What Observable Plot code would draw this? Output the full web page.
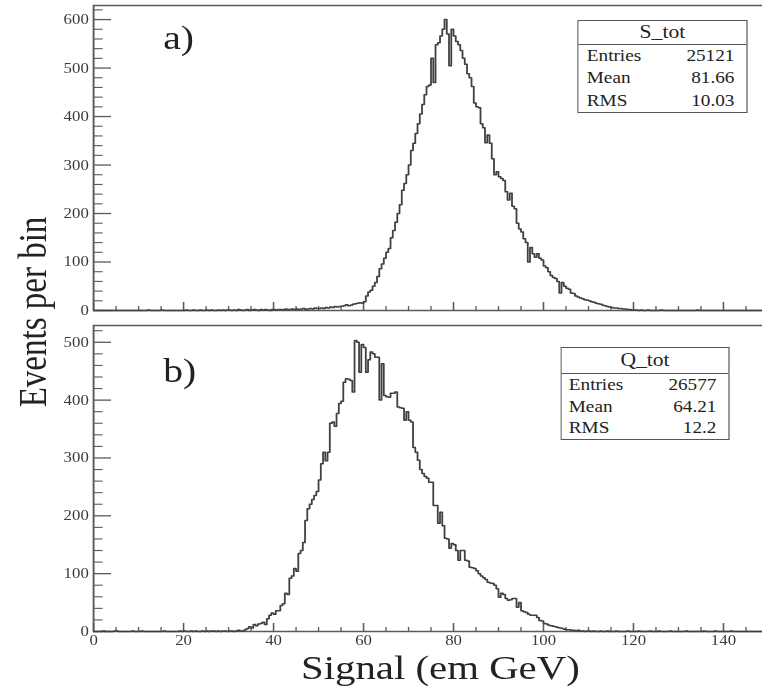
<!DOCTYPE html>
<html><head><meta charset="utf-8">
<script src="https://cdn.jsdelivr.net/npm/d3@7"></script>
<script src="https://cdn.jsdelivr.net/npm/@observablehq/plot@0.6"></script>
<style>
body{margin:0;background:#fff;overflow:hidden;}
#wrap{position:relative;width:635px;height:688px;transform:scaleX(1.2);transform-origin:0 0;font-family:"Liberation Serif","Times New Roman",serif;color:#222;}
.panel{position:absolute;left:0;}
.tag{position:absolute;font-size:33px;line-height:33px;white-space:nowrap;}
.ylab{position:absolute;left:27.5px;top:312px;font-size:33px;line-height:33px;white-space:nowrap;transform:translate(-50%,-50%) rotate(-90deg);}
.xlab{position:absolute;left:367px;top:654px;font-size:34px;line-height:28px;white-space:nowrap;transform:translateX(-50%);}
.stats{position:absolute;border:1.5px solid #555;background:#fff;box-sizing:border-box;}
.stats .title{text-align:center;font-size:18px;border-bottom:1.5px solid #555;}
.stats .row{display:flex;justify-content:space-between;font-size:16px;}
</style></head><body><div id="wrap"></div>
<script>
// ---- data ----
const binWidth = 0.5; // GeV per bin, first bin starts at 0
const xTickLabels = [0, 20, 40, 60, 80, 100, 120, 140];
const sTopTicks = [0, 100, 200, 300, 400, 500, 600];
const qTopTicks = [0, 100, 200, 300, 400, 500];
const panelTags = ["a)", "b)"];
const statNames = ["Entries", "Mean", "RMS"];
const sTitle = "S_tot";
const sStatValues = ["25121", "81.66", "10.03"];
const qTitle = "Q_tot";
const qStatValues = ["26577", "64.21", "12.2"];
const yAxisTitle = "Events per bin";
const xAxisTitle = "Signal (em GeV)";

const sCounts = [
  0,0,0,0,0,0,0,0,0,0,0,0,0,0,0,0,0,0,0,0,
  0,0,0,0,1,0,0,0,0,0,1,0,0,0,0,0,0,0,0,0,
  0,1,0,0,1,0,0,1,0,0,1,0,1,0,0,1,0,1,0,1,
  1,0,1,0,2,1,0,1,2,0,1,2,1,0,2,1,2,1,0,2,
  2,1,2,2,1,3,2,2,3,2,3,2,3,4,2,3,4,3,5,4,
  4,5,4,6,5,7,6,8,7,8,9,10,12,10,11,13,14,15,16,15,
  18,30,38,42,50,58,70,86,96,108,120,128,150,165,182,200,218,248,262,280,
  300,330,345,365,385,405,425,445,462,465,520,470,548,552,566,580,600,570,505,580,
  566,555,548,536,520,508,488,480,462,428,420,418,385,377,346,362,345,313,280,286,
  276,272,268,245,228,242,215,210,180,168,162,148,140,100,130,117,110,117,108,104,
  92,88,80,72,68,66,60,36,58,50,46,44,36,35,30,28,26,24,22,21,
  20,18,17,15,14,13,11,10,8,7,6,5,5,4,4,3,3,2,2,1,
  1,1,0,1,0,0,1,0,0,0,0,0,1,0,0,0,0,0,0,0,
  0,0,0,0,0,0,0,0,1,0,0,0,0,0,0,0,0,0,0,0,
  0,0,0,0,0,0,0,0,0,0,0,0,0,0,0,0,0
];
const qCounts = [
  0,0,0,0,1,0,0,0,0,1,1,0,0,0,0,0,0,1,0,0,
  0,1,0,0,0,0,0,0,0,0,0,1,0,0,0,0,0,0,1,0,
  1,0,0,1,0,1,0,0,1,0,1,0,1,1,0,1,0,1,1,0,
  1,1,0,1,2,1,1,3,5,8,6,12,10,13,14,16,12,22,28,32,
  30,36,36,45,48,66,64,92,96,109,104,135,140,154,192,212,220,228,235,242,
  262,290,310,295,310,360,362,355,377,394,398,431,437,436,434,414,503,500,448,496,
  491,448,470,483,480,474,474,400,463,408,406,405,412,412,414,388,387,386,365,380,
  365,362,318,310,296,280,273,268,265,258,258,218,218,187,206,183,161,160,144,152,
  150,140,123,140,140,123,122,111,110,109,105,100,96,93,90,85,84,83,80,74,
  59,66,64,57,54,55,57,57,42,50,36,34,33,30,28,28,28,24,19,18,
  14,13,11,10,9,8,7,6,5,4,3,3,2,2,1,2,1,1,0,1,
  1,0,1,0,0,1,0,0,1,0,0,0,1,0,0,0,0,1,0,0,
  0,0,1,0,0,0,0,1,0,0,0,1,0,0,0,0,1,0,0,0,
  0,0,0,1,0,0,0,0,0,0,0,1,0,0,0,0,1,0,0,0,
  0,0,0,1,0,0,0,0,0,0,0,0,0,0,0,0,0
];

// ---- drawing ----
const W = 635, ML = 77.5, XMAX = 148.7;
const pxPerX = (W - ML) / XMAX;
const xMinor = d3.range(0, 149, 5).filter(v => v % 20 !== 0);
const wrap = document.getElementById("wrap");

function panel(counts, yMax, yMajor, height, marginBottom, showX) {
  const mt = 5;
  const plotH = height - mt - marginBottom;
  const yPx = px => px * yMax / plotH; // pixel length -> data units
  const pts = counts.map((c, i) => ({x: i * binWidth, y: c}));
  pts.push({x: counts.length * binWidth, y: counts[counts.length - 1]});
  const yMinor = d3.range(0, yMax, 20).filter(v => v % 100 !== 0);
  const frame = "#5a5a5a";
  return Plot.plot({
    width: W, height, marginLeft: ML, marginRight: 0, marginTop: mt, marginBottom,
    x: {domain: [0, XMAX], label: null, axis: null},
    y: {domain: [0, yMax], label: null, axis: null},
    style: {fontFamily: "'Liberation Serif','Times New Roman',serif", fontSize: "14px", color: "#333", background: "transparent", overflow: "visible"},
    marks: [
      Plot.ruleY(yMajor, {x1: 0, x2: 15 / pxPerX, stroke: frame, strokeWidth: 1.3}),
      Plot.ruleY(yMinor, {x1: 0, x2: 8 / pxPerX, stroke: frame, strokeWidth: 1.1}),
      Plot.axisY(yMajor, {tickSize: 0, tickPadding: 4, tickFormat: d => String(d), fill: "#3a3a3a", label: null}),
      Plot.ruleX(xTickLabels, {y1: 0, y2: yPx(8), stroke: frame, strokeWidth: 1.3}),
      Plot.ruleX(xMinor, {y1: 0, y2: yPx(4), stroke: frame, strokeWidth: 1.1}),
      showX ? Plot.axisX(xTickLabels, {tickSize: 0, tickPadding: 4, tickFormat: d => String(d), fill: "#3a3a3a", label: null}) : null,
      Plot.ruleY([0], {stroke: frame, strokeWidth: 1.6}),
      Plot.ruleY([yMax], {stroke: frame, strokeWidth: 1.6}),
      Plot.ruleX([0], {stroke: frame, strokeWidth: 1.6}),
      Plot.line(pts, {x: "x", y: "y", curve: "step-after", stroke: "#404040", strokeWidth: 1.5})
    ]
  });
}

const p1 = panel(sCounts, 629, sTopTicks, 320, 10, false);
p1.classList.add("panel"); p1.style.top = "0px";
wrap.appendChild(p1);
const p2 = panel(qCounts, 529, qTopTicks, 340, 29, true);
p2.classList.add("panel"); p2.style.top = "320px";
wrap.appendChild(p2);

function addTag(text, left, top) {
  const d = document.createElement("div");
  d.className = "tag"; d.textContent = text;
  d.style.left = left + "px"; d.style.top = top + "px";
  wrap.appendChild(d);
}
addTag(panelTags[0], 136, 22);
addTag(panelTags[1], 136, 355);

function addStats(title, values, left, top, width, height, titleH, padL, padR) {
  const box = document.createElement("div");
  box.className = "stats";
  Object.assign(box.style, {left: left + "px", top: top + "px", width: width + "px", height: height + "px"});
  const t = document.createElement("div");
  t.className = "title"; t.textContent = title;
  t.style.height = titleH + "px"; t.style.lineHeight = titleH + "px";
  box.appendChild(t);
  const rowH = (height - titleH - 3) / statNames.length;
  statNames.forEach((n, i) => {
    const r = document.createElement("div");
    r.className = "row";
    Object.assign(r.style, {height: rowH + "px", lineHeight: rowH + "px", paddingLeft: padL + "px", paddingRight: padR + "px"});
    const a = document.createElement("span"); a.textContent = n;
    const b = document.createElement("span"); b.textContent = values[i];
    r.appendChild(a); r.appendChild(b);
    box.appendChild(r);
  });
  wrap.appendChild(box);
}
addStats(sTitle, sStatValues, 481, 20, 142, 93, 23, 7, 10);
addStats(qTitle, qStatValues, 467, 347, 141, 93, 25, 6, 10);

const yl = document.createElement("div");
yl.className = "ylab"; yl.textContent = yAxisTitle; wrap.appendChild(yl);
const xl = document.createElement("div");
xl.className = "xlab"; xl.textContent = xAxisTitle; wrap.appendChild(xl);
</script></body></html>
